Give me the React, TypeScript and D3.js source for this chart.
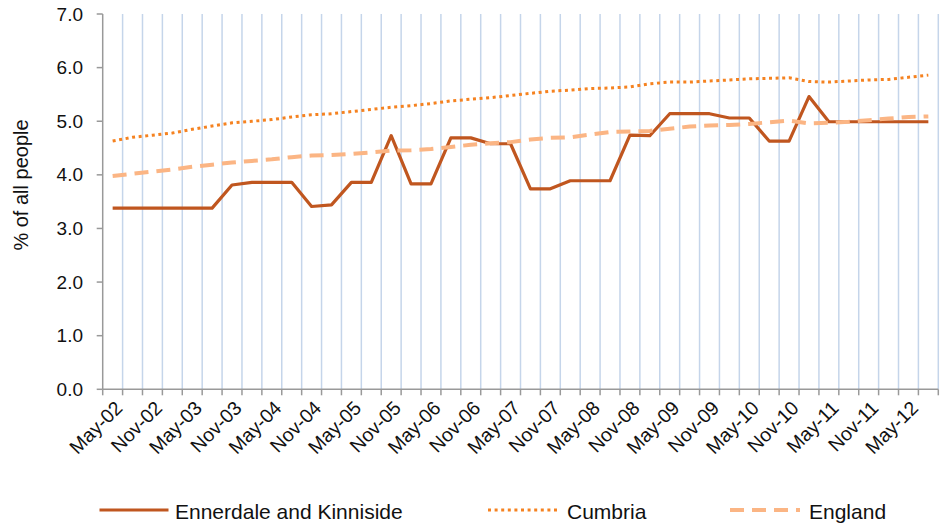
import React from "react";
import * as d3 from "d3";

const categories = [
  "May-02","Aug-02","Nov-02","Feb-03","May-03","Aug-03","Nov-03","Feb-04","May-04","Aug-04",
  "Nov-04","Feb-05","May-05","Aug-05","Nov-05","Feb-06","May-06","Aug-06","Nov-06","Feb-07",
  "May-07","Aug-07","Nov-07","Feb-08","May-08","Aug-08","Nov-08","Feb-09","May-09","Aug-09",
  "Nov-09","Feb-10","May-10","Aug-10","Nov-10","Feb-11","May-11","Aug-11","Nov-11","Feb-12",
  "May-12","Aug-12"
];

const xTickLabels = [
  "May-02","Nov-02","May-03","Nov-03","May-04","Nov-04","May-05","Nov-05","May-06","Nov-06",
  "May-07","Nov-07","May-08","Nov-08","May-09","Nov-09","May-10","Nov-10","May-11","Nov-11","May-12"
];

const ennerdale = [
  3.38,3.38,3.38,3.38,3.38,3.38,3.81,3.86,3.86,3.86,
  3.41,3.44,3.86,3.86,4.73,3.83,3.83,4.69,4.69,4.58,
  4.58,3.74,3.74,3.89,3.89,3.89,4.74,4.73,5.14,5.14,
  5.14,5.06,5.06,4.63,4.63,5.46,4.99,4.99,4.99,4.99,
  4.99,4.99
];

const cumbria = [
  4.63,4.70,4.74,4.78,4.85,4.91,4.97,5.00,5.03,5.08,
  5.12,5.14,5.18,5.22,5.26,5.29,5.33,5.38,5.41,5.44,
  5.48,5.52,5.56,5.58,5.61,5.62,5.64,5.70,5.73,5.73,
  5.75,5.77,5.79,5.80,5.81,5.74,5.73,5.75,5.77,5.78,
  5.82,5.86
];

const england = [
  3.98,4.02,4.06,4.10,4.15,4.19,4.23,4.26,4.29,4.33,
  4.36,4.37,4.39,4.42,4.45,4.46,4.48,4.52,4.56,4.59,
  4.61,4.66,4.69,4.70,4.75,4.80,4.81,4.82,4.86,4.90,
  4.92,4.93,4.95,4.98,5.01,4.96,4.97,4.99,5.02,5.05,
  5.08,5.09
];

const yTicks = [0, 1, 2, 3, 4, 5, 6, 7];
const seriesNames = ["Ennerdale and Kinniside", "Cumbria", "England"];

const FONT = "'Liberation Sans', Arial, sans-serif";

export default function App() {
  const width = 943;
  const height = 526;
  const left = 102.7;
  const right = 938.3;
  const top = 14;
  const bottom = 389.3;

  const x = d3.scaleBand<string>().domain(categories).range([left, right]);
  const y = d3.scaleLinear().domain([0, 7]).range([bottom, top]);
  const bw = x.bandwidth();
  const cx = (c: string) => (x(c) as number) + bw / 2;

  const line = d3
    .line<number>()
    .x((_, i) => cx(categories[i]))
    .y((d) => y(d));

  const boundaries = categories.map((c) => (x(c) as number) + bw);

  const series = [
    { name: seriesNames[0], data: ennerdale, color: "#C0561F", width: 3.2, dash: "none" },
    { name: seriesNames[1], data: cumbria, color: "#F58220", width: 3, dash: "3 3.6" },
    { name: seriesNames[2], data: england, color: "#FBB584", width: 4, dash: "14 8" },
  ];

  const legendItems = [
    { x1: 99.5, x2: 168.5, tx: 175 },
    { x1: 488, x2: 559, tx: 567 },
    { x1: 730, x2: 800, tx: 809 },
  ];

  return (
    <div style={{ position: "absolute", left: 0, top: 0 }}>
      <svg width={width} height={height} style={{ display: "block", background: "#fff" }}>
        <rect x={0} y={0} width={width} height={height} fill="#fff" />
        {/* gridlines */}
        {boundaries.map((bx, i) => (
          <line key={"g" + i} x1={bx} x2={bx} y1={top} y2={bottom} stroke="#C5D5EA" strokeWidth={1.5} />
        ))}
        {/* y axis */}
        <line x1={left} x2={left} y1={top} y2={bottom} stroke="#999" strokeWidth={1.5} />
        {yTicks.map((t) => (
          <g key={"yt" + t}>
            <line x1={left - 6} x2={left} y1={y(t)} y2={y(t)} stroke="#999" strokeWidth={1.5} />
            <text
              x={83}
              y={y(t)}
              textAnchor="end"
              dominantBaseline="central"
              fontFamily={FONT}
              fontSize={19}
              fill="#111"
            >
              {t.toFixed(1)}
            </text>
          </g>
        ))}
        {/* x axis */}
        <line x1={left} x2={right} y1={bottom} y2={bottom} stroke="#999" strokeWidth={1.5} />
        {[left, ...boundaries].map((bx, i) => (
          <line key={"xt" + i} x1={bx} x2={bx} y1={bottom} y2={bottom + 6} stroke="#999" strokeWidth={1.5} />
        ))}
        {xTickLabels.map((lab) => (
          <text
            key={"xl" + lab}
            transform={`translate(${cx(lab) + 6},${bottom + 15}) rotate(-45)`}
            textAnchor="end"
            dominantBaseline="central"
            fontFamily={FONT}
            fontSize={19.5}
            fill="#111"
          >
            {lab}
          </text>
        ))}
        {/* y title */}
        <text
          transform={`translate(21,185) rotate(-90)`}
          textAnchor="middle"
          dominantBaseline="central"
          fontFamily={FONT}
          fontSize={20}
          fill="#111"
        >
          % of all people
        </text>
        {/* series */}
        {series.map((s) => (
          <path
            key={s.name}
            d={line(s.data) || ""}
            fill="none"
            stroke={s.color}
            strokeWidth={s.width}
            strokeDasharray={s.dash}
            strokeLinejoin="round"
          />
        ))}
        {/* legend */}
        {series.map((s, i) => (
          <g key={"lg" + i}>
            <line
              x1={legendItems[i].x1}
              x2={legendItems[i].x2}
              y1={510}
              y2={510}
              stroke={s.color}
              strokeWidth={s.width}
              strokeDasharray={s.dash}
            />
            <text
              x={legendItems[i].tx}
              y={511}
              dominantBaseline="central"
              fontFamily={FONT}
              fontSize={21}
              fill="#111"
            >
              {s.name}
            </text>
          </g>
        ))}
      </svg>
    </div>
  );
}
